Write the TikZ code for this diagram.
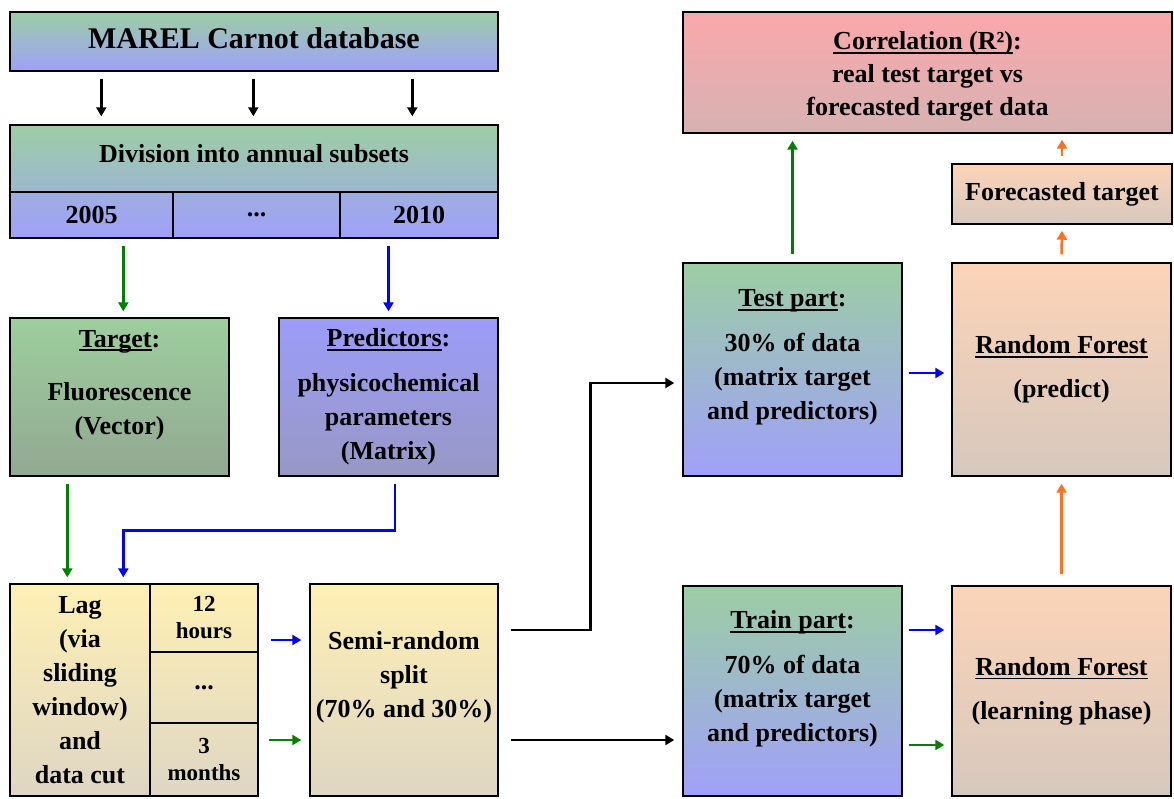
\documentclass[tikz,border=0pt]{standalone}
\usepackage{fontspec}
\setmainfont{Liberation Serif}
\usetikzlibrary{arrows.meta,calc}
\definecolor{gtop}{RGB}{156,206,164}
\definecolor{bbot}{RGB}{160,160,250}
\definecolor{tgtop}{RGB}{158,206,158}
\definecolor{tgbot}{RGB}{146,168,146}
\definecolor{prtop}{RGB}{156,156,250}
\definecolor{prbot}{RGB}{152,152,196}
\definecolor{ytop}{RGB}{254,240,180}
\definecolor{ybot}{RGB}{222,214,196}
\definecolor{otop}{RGB}{252,212,184}
\definecolor{obot}{RGB}{214,200,190}
\definecolor{rtop}{RGB}{250,168,172}
\definecolor{rbot}{RGB}{214,178,178}
\definecolor{agreen}{RGB}{0,128,0}
\definecolor{ablue}{RGB}{0,0,255}
\definecolor{aorange}{RGB}{255,112,32}
\newlength\ulw
\newcommand\ul[1]{\settowidth\ulw{#1}\rlap{\rule[-4pt]{\ulw}{1.6pt}}#1}
\tikzset{
  box/.style={draw=black, line width=1.4pt, align=center, inner sep=2pt,
    font=\fontsize{26}{34}\selectfont\bfseries, text=black},
  small/.style={font=\fontsize{23}{27}\selectfont\bfseries},
  conn/.style={line width=2.5pt, -{Triangle[length=9pt,width=10pt]}},
}
\begin{document}
\begin{tikzpicture}[x=1pt,y=-1pt]
\useasboundingbox[fill=white] (0,0) rectangle (1174,798);
% top left
\node[box, minimum width=488pt, minimum height=59pt, top color=gtop, bottom color=bbot,
  font=\fontsize{30}{36}\selectfont\bfseries] (marel) at (254,41.5) {MAREL Carnot database\\[-30pt]\mbox{}};
\node[box, minimum width=488pt, minimum height=67pt, top color=gtop, bottom color=gtop!50!bbot] (div) at (254,158.5) {Division into annual subsets\\[-24pt]\mbox{}};
\node[box, minimum width=163pt, minimum height=46pt, top color=gtop!30!bbot, bottom color=bbot] (c2005) at (91.5,215) {2005};
\node[box, minimum width=167pt, minimum height=46pt, top color=gtop!30!bbot, bottom color=bbot] (cdots) at (256.5,215) {...};
\node[box, minimum width=158pt, minimum height=46pt, top color=gtop!30!bbot, bottom color=bbot] (c2010) at (419,215) {2010};
% target / predictors
\node[box, minimum width=219pt, minimum height=158pt, top color=tgtop, bottom color=tgbot] (target) at (119.5,397)
  {\ul{Target}:\\[19pt]Fluorescence\\(Vector)\\[-4pt]\mbox{}};
\node[box, minimum width=219pt, minimum height=158pt, top color=prtop, bottom color=prbot] (pred) at (388.5,397)
  {\ul{Predictors}:\\[11pt]physicochemical\\parameters\\(Matrix)};
% lag
\node[box, minimum width=140pt, minimum height=212pt, top color=ytop, bottom color=ybot] (lag) at (80,690)
  {Lag\\(via\\sliding\\window)\\and\\data cut};
\node[box, small, minimum width=108pt, minimum height=68pt, top color=ytop, bottom color=ytop!68!ybot] (c12) at (204,618) {12\\hours};
\node[box, minimum width=108pt, minimum height=71pt, top color=ytop!68!ybot, bottom color=ytop!34!ybot] (cmid) at (204,687.5) {...};
\node[box, small, minimum width=108pt, minimum height=73pt, top color=ytop!34!ybot, bottom color=ybot] (c3m) at (204,759.5) {3\\months};
\node[box, minimum width=188pt, minimum height=212pt, top color=ytop, bottom color=ybot] (semi) at (404,690)
  {Semi-random\\split\\(70\% and 30\%)\\[-2pt]\mbox{}};
% right side
\node[box, minimum width=219pt, minimum height=213pt, top color=gtop, bottom color=bbot] (test) at (792.5,369.5)
  {\ul{Test part}:\\[11pt]30\% of data\\(matrix target\\and predictors)\\[-4pt]\mbox{}};
\node[box, minimum width=219pt, minimum height=213pt, top color=otop, bottom color=obot] (rfp) at (1061.5,369.5)
  {\ul{Random Forest}\\[10pt](predict)};
\node[box, minimum width=489pt, minimum height=121pt, top color=rtop, bottom color=rbot] (corr) at (927.5,72.5)
  {\mbox{}\\[-8pt]\ul{Correlation (R²)}:\\[-1pt]real test target vs\\[-1pt]forecasted target data};
\node[box, minimum width=220pt, minimum height=60pt, top color=otop, bottom color=obot] (fore) at (1062,194) {Forecasted target};
\node[box, minimum width=219pt, minimum height=210pt, top color=gtop, bottom color=bbot] (train) at (792.5,691)
  {\ul{Train part}:\\[11pt]70\% of data\\(matrix target\\and predictors)\\[-4pt]\mbox{}};
\node[box, minimum width=219pt, minimum height=210pt, top color=otop, bottom color=obot] (rfl) at (1061.5,691)
  {\ul{Random Forest}\\[10pt](learning phase)};
% connectors
\foreach \dx in {92,244,403}
  \draw[conn] ([xshift=\dx pt,yshift=-7pt]marel.south west) -- ([xshift=\dx pt,yshift=8pt]div.north west);
\draw[conn,agreen] ([xshift=114pt,yshift=-7pt]c2005.south west) -- ([xshift=114pt,yshift=6pt]target.north west);
\draw[conn,ablue] ([yshift=-7pt]c2010.south -| pred.north) -- ([yshift=6pt]pred.north);
\draw[conn,agreen] ([xshift=58pt,yshift=-7pt]target.south west) -- ([xshift=58pt,yshift=6pt]lag.north west);
\draw[conn,ablue] ([xshift=6.5pt,yshift=-7pt]pred.south) -- ++(0,47) -| ([xshift=114pt,yshift=6pt]lag.north west);
\draw[conn,ablue] ([xshift=12pt,yshift=-22pt]c12.east) -- ([xshift=-8pt,yshift=-22pt]c12.east -| semi.west);
\draw[conn,agreen] ([xshift=10pt,yshift=19.5pt]c3m.east) -- ([xshift=-8pt,yshift=19.5pt]c3m.east -| semi.west);
\draw[conn] ([xshift=12pt,yshift=60pt]semi.east) -- ++(80,0) |- ([xshift=-8pt,yshift=-13.5pt]test.west);
\draw[conn] ([xshift=12pt,yshift=-50pt]semi.east) -- ([xshift=-8pt,yshift=-50pt]semi.east -| train.west);
\draw[conn,ablue] ([xshift=6pt,yshift=-3.5pt]test.east) -- ([xshift=-7pt,yshift=-3.5pt]test.east -| rfp.west);
\draw[conn,ablue] ([xshift=6pt,yshift=61pt]train.east) -- ([xshift=-7pt,yshift=61pt]train.east -| rfl.west);
\draw[conn,agreen] ([xshift=6pt,yshift=-54pt]train.east) -- ([xshift=-7pt,yshift=-54pt]train.east -| rfl.west);
\draw[conn,aorange] ([yshift=11pt]rfl.north) -- ([yshift=-7pt]rfp.south);
\draw[conn,aorange] ([yshift=8pt]rfp.north) -- ([yshift=-6pt]fore.south);
\draw[conn,aorange] ([yshift=7pt]fore.north) -- ([yshift=-6pt]fore.north |- corr.south);
\draw[conn,agreen] ([yshift=8pt]test.north) -- ([yshift=-7pt]test.north |- corr.south);
\end{tikzpicture}
\end{document}
